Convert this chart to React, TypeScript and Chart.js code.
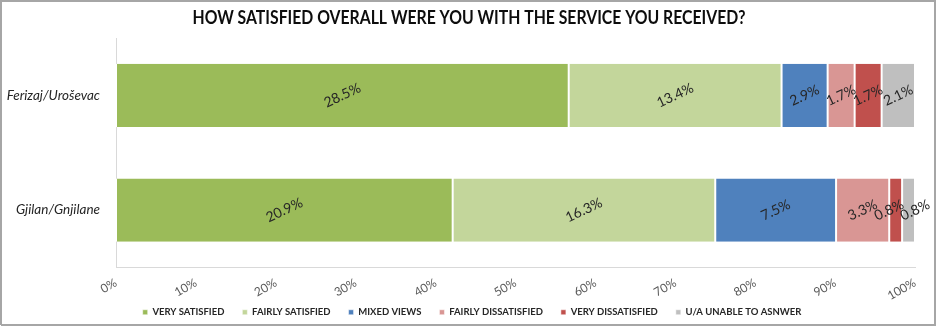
import React, { useEffect, useRef } from "react";
import { Chart, registerables } from "chart.js";

Chart.register(...registerables);

const chartTitle = "HOW SATISFIED OVERALL WERE YOU WITH THE SERVICE YOU RECEIVED?";
const categories = ["Ferizaj/Uroševac", "Gjilan/Gnjilane"];
const seriesNames = [
  "VERY SATISFIED",
  "FAIRLY SATISFIED",
  "MIXED VIEWS",
  "FAIRLY DISSATISFIED",
  "VERY DISSATISFIED",
  "U/A UNABLE TO ASNWER",
];
const verySatisfied = [28.5, 20.9];
const fairlySatisfied = [13.4, 16.3];
const mixedViews = [2.9, 7.5];
const fairlyDissatisfied = [1.7, 3.3];
const veryDissatisfied = [1.7, 0.8];
const unableToAnswer = [2.1, 0.8];
const seriesValues = [verySatisfied, fairlySatisfied, mixedViews, fairlyDissatisfied, veryDissatisfied, unableToAnswer];
const seriesColors = ["#9BBB59", "#C3D69B", "#4F81BD", "#D99694", "#C0504D", "#BFBFBF"];
const xTickValues = [0, 10, 20, 30, 40, 50, 60, 70, 80, 90, 100];

const FONT = "Lato, 'Open Sans', sans-serif";

export default function App() {
  const ref = useRef<HTMLCanvasElement | null>(null);

  useEffect(() => {
    const canvas = ref.current;
    if (!canvas) return;

    const totals = categories.map((_, j) => seriesValues.reduce((s, arr) => s + arr[j], 0));

    const framePlugin = {
      id: "frame",
      beforeDraw(chart: any) {
        const ctx = chart.ctx;
        ctx.save();
        ctx.fillStyle = "#ffffff";
        ctx.fillRect(0, 0, chart.width, chart.height);
        ctx.strokeStyle = "#a6a6a6";
        ctx.lineWidth = 2;
        ctx.beginPath();
        ctx.moveTo(1, chart.height - 2);
        ctx.lineTo(1, 1);
        ctx.lineTo(935, 1);
        ctx.lineTo(935, chart.height - 2);
        ctx.lineTo(1, chart.height - 2);
        ctx.stroke();
        ctx.restore();
      },
      afterDraw(chart: any) {
        const ctx = chart.ctx;
        ctx.save();
        ctx.fillStyle = "#0d0d0d";
        ctx.font = `bold 18px ${FONT}`;
        ctx.textAlign = "center";
        ctx.textBaseline = "middle";
        ctx.fillText(chartTitle, 469, 18, 553);
        ctx.restore();
      },
    };

    const labelPlugin = {
      id: "segLabels",
      afterDatasetsDraw(chart: any) {
        const ctx = chart.ctx;
        ctx.save();
        ctx.fillStyle = "#262626";
        ctx.font = `14px ${FONT}`;
        ctx.textAlign = "center";
        ctx.textBaseline = "middle";
        const minGap = 26;
        categories.forEach((_, j) => {
          const items: { cx: number; y: number; text: string }[] = [];
          chart.data.datasets.forEach((ds: any, i: number) => {
            const el = chart.getDatasetMeta(i).data[j];
            const p = el.getProps(["x", "base", "y"], true);
            items.push({ cx: (p.x + p.base) / 2, y: p.y, text: seriesValues[i][j].toFixed(1) + "%" });
          });
          for (let k = 1; k < items.length; k++) {
            const diff = items[k].cx - items[k - 1].cx;
            if (diff < minGap) {
              const d = (minGap - diff) / 2;
              items[k - 1].cx -= d;
              items[k].cx += d;
            }
          }
          items.forEach((it) => {
            ctx.save();
            ctx.translate(it.cx, it.y);
            ctx.rotate((-25 * Math.PI) / 180);
            ctx.fillText(it.text, 0, 0);
            ctx.restore();
          });
        });
        ctx.restore();
      },
    };

    const chart = new Chart(canvas, {
      type: "bar",
      data: {
        labels: categories,
        datasets: seriesNames.map((name, i) => ({
          label: name,
          data: seriesValues[i].map((v, j) => (v / totals[j]) * 100),
          backgroundColor: seriesColors[i],
          borderColor: "#ffffff",
          borderWidth: { left: 1, right: 1, top: 0, bottom: 0 },
          borderSkipped: false,
          barPercentage: 0.55,
          categoryPercentage: 1,
        })),
      },
      options: {
        indexAxis: "y",
        animation: false,
        responsive: false,
        maintainAspectRatio: false,
        layout: { padding: { top: 38, right: 22, left: 29, bottom: 0 } },
        plugins: {
          title: { display: false },
          tooltip: { enabled: false },
          legend: {
            display: true,
            position: "bottom",
            labels: {
              boxWidth: 5,
              boxHeight: 5,
              padding: 18,
              color: "#262626",
              font: { family: FONT, size: 9.5, weight: "bold" },
            },
          },
        },
        scales: {
          x: {
            stacked: true,
            min: 0,
            max: 100,
            afterBuildTicks(scale: any) {
              scale.ticks = xTickValues.map((v) => ({ value: v }));
            },
            afterFit(scale: any) {
              scale.height = 22;
              scale._computeLabelArea = () => undefined;
            },
            grid: { display: false, drawTicks: false },
            border: { display: true, color: "#d9d9d9", width: 1 },
            ticks: {
              minRotation: 30,
              maxRotation: 30,
              padding: 8,
              autoSkip: false,
              color: "#595959",
              font: { family: FONT, size: 12 },
              callback: (v: any) => v + "%",
            },
          },
          y: {
            stacked: true,
            afterFit(scale: any) {
              scale.width = 87;
              scale._computeLabelArea = () => undefined;
            },
            grid: { display: false, drawTicks: false },
            border: { display: true, color: "#d9d9d9", width: 1 },
            ticks: {
              padding: 16,
              color: "#262626",
              font: { family: FONT, size: 13.5, style: "italic" },
            },
          },
        },
      },
      plugins: [framePlugin, labelPlugin],
    } as any);

    return () => chart.destroy();
  }, []);

  return (
    <div style={{ position: "absolute", left: 0, top: 0, width: 937, height: 327, background: "#fff" }}>
      <canvas ref={ref} width={937} height={327} style={{ width: 937, height: 327, display: "block" }} />
    </div>
  );
}
